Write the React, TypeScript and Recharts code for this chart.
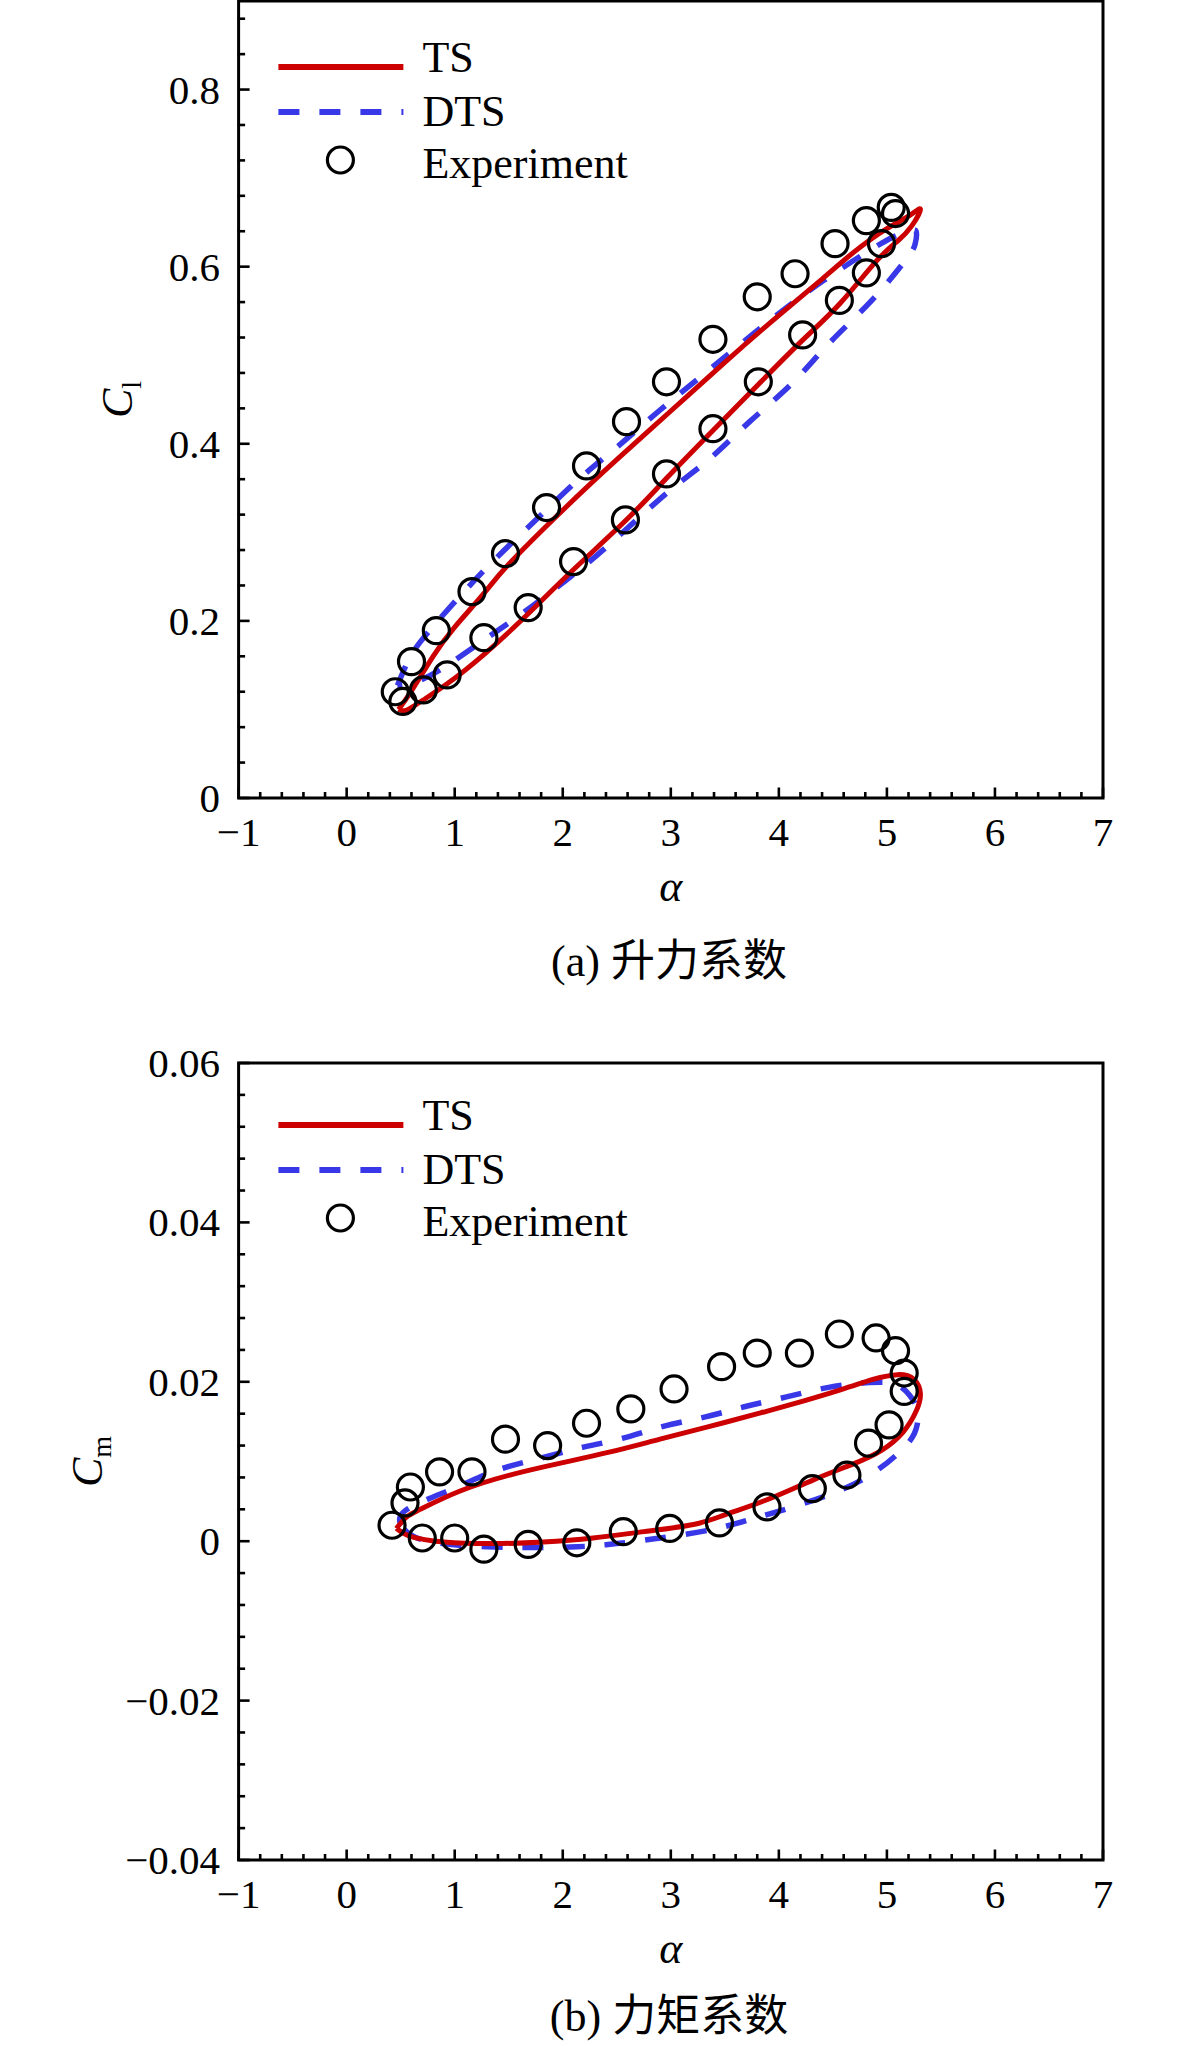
import React from 'react';
import { ComposedChart, Line, Scatter, XAxis, YAxis, Legend, ReferenceArea } from 'recharts';

const FONT = "'Liberation Serif', 'Times New Roman', serif";
const RED = '#cc0000';
const BLUE = '#3838e8';

// ---- axis ticks ----
const alphaTicks = [-1, 0, 1, 2, 3, 4, 5, 6, 7];
const alphaTickLabels = ['−1', '0', '1', '2', '3', '4', '5', '6', '7'];
const alphaMinorTicks = [
  -0.8, -0.6, -0.4, -0.2, 0.2, 0.4, 0.6, 0.8, 1.2, 1.4, 1.6, 1.8, 2.2, 2.4, 2.6, 2.8,
  3.2, 3.4, 3.6, 3.8, 4.2, 4.4, 4.6, 4.8, 5.2, 5.4, 5.6, 5.8, 6.2, 6.4, 6.6, 6.8,
];
const clTicks = [0, 0.2, 0.4, 0.6, 0.8];
const clTickLabels = ['0', '0.2', '0.4', '0.6', '0.8'];
const clMinorTicks = [
  0.04, 0.08, 0.12, 0.16, 0.24, 0.28, 0.32, 0.36, 0.44, 0.48, 0.52, 0.56, 0.64, 0.68, 0.72, 0.76, 0.84, 0.88,
];
const cmTicks = [-0.04, -0.02, 0, 0.02, 0.04, 0.06];
const cmTickLabels = ['−0.04', '−0.02', '0', '0.02', '0.04', '0.06'];
const cmMinorTicks = [
  -0.036, -0.032, -0.028, -0.024, -0.016, -0.012, -0.008, -0.004, 0.004, 0.008, 0.012, 0.016,
  0.024, 0.028, 0.032, 0.036, 0.044, 0.048, 0.052, 0.056,
];

// ---- (a) lift coefficient ----
const clTS: [number, number][] = [
  [0.48, 0.100], [0.6, 0.121], [0.8, 0.160], [1.0, 0.193], [1.27, 0.231], [1.5, 0.264], [2.0, 0.325],
  [2.5, 0.382], [3.0, 0.437], [3.5, 0.492], [4.0, 0.545], [4.4, 0.586], [4.7, 0.617], [5.0, 0.643],
  [5.2, 0.657], [5.31, 0.665], [5.23, 0.646], [5.1, 0.629], [4.9, 0.606], [4.57, 0.559], [4.22, 0.517],
  [3.81, 0.467], [3.39, 0.415], [2.96, 0.361], [2.58, 0.313], [2.1, 0.258], [1.68, 0.208], [1.27, 0.162],
  [0.93, 0.129], [0.7, 0.110], [0.55, 0.099], [0.48, 0.100],
];
const clDTS: [number, number][] = [
  [0.47, 0.127], [0.55, 0.150], [0.68, 0.176], [0.99, 0.220], [1.36, 0.268], [1.76, 0.315], [2.13, 0.358],
  [2.5, 0.396], [2.89, 0.437], [3.27, 0.475], [3.64, 0.512], [4.01, 0.548], [4.41, 0.584], [4.81, 0.616],
  [5.05, 0.633], [5.2, 0.640], [5.27, 0.640], [5.26, 0.625], [5.17, 0.607], [4.86, 0.562], [4.47, 0.514],
  [4.12, 0.468], [3.73, 0.425], [3.36, 0.383], [2.96, 0.344], [2.41, 0.284], [2.0, 0.243], [1.62, 0.208],
  [1.23, 0.175], [0.88, 0.146], [0.62, 0.130], [0.47, 0.127],
];
const clExp: [number, number][] = [
  [0.45, 0.120], [0.60, 0.154], [0.83, 0.189], [1.16, 0.233], [1.47, 0.276], [1.85, 0.328], [2.22, 0.375],
  [2.59, 0.425], [2.96, 0.470], [3.39, 0.518], [3.80, 0.566], [4.15, 0.592], [4.52, 0.626], [4.81, 0.652],
  [5.04, 0.667], [5.08, 0.660],
  [0.52, 0.109], [0.71, 0.122], [0.93, 0.139], [1.27, 0.181], [1.68, 0.215], [2.10, 0.267], [2.58, 0.314],
  [2.96, 0.366], [3.39, 0.417], [3.81, 0.470], [4.22, 0.523], [4.56, 0.562], [4.81, 0.593], [4.95, 0.626],
];

// ---- (b) moment coefficient ----
const cmTS: [number, number][] = [
  [0.46, 0.0016], [0.55, 0.0030], [0.68, 0.0040], [1.05, 0.0063], [1.51, 0.0083], [1.98, 0.0098],
  [2.44, 0.0112], [2.9, 0.0128], [3.36, 0.0144], [3.83, 0.0161], [4.1, 0.0171], [4.57, 0.0190],
  [4.87, 0.0203], [5.1, 0.0209], [5.25, 0.0203], [5.31, 0.0185], [5.27, 0.0163], [5.15, 0.0137],
  [4.95, 0.0114], [4.69, 0.0097], [4.32, 0.0077], [3.89, 0.0052], [3.5, 0.0033], [3.21, 0.0021],
  [2.75, 0.0012], [2.28, 0.0004], [1.82, -0.0001], [1.36, -0.0003], [0.9, -0.0001], [0.59, 0.0006],
  [0.46, 0.0016],
];
const cmDTS: [number, number][] = [
  [0.5, 0.0020], [0.56, 0.0040], [0.99, 0.0066], [1.39, 0.0089], [1.79, 0.0104], [2.16, 0.0117],
  [2.55, 0.0129], [2.93, 0.0144], [3.32, 0.0156], [3.69, 0.0169], [4.07, 0.0181], [4.46, 0.0193],
  [4.84, 0.0199], [5.08, 0.0197], [5.21, 0.0183], [5.28, 0.0166], [5.28, 0.0146], [5.19, 0.0122],
  [4.91, 0.0089], [4.57, 0.0064], [4.13, 0.0043], [3.73, 0.0027], [3.36, 0.0014], [2.9, 0.0004],
  [2.5, -0.0003], [2.13, -0.0007], [1.7, -0.0008], [1.3, -0.0007], [0.89, -0.0003], [0.62, 0.0006],
  [0.5, 0.0020],
];
const cmExp: [number, number][] = [
  [0.42, 0.0020], [0.54, 0.0048], [0.59, 0.0068], [0.86, 0.0087], [1.16, 0.0087], [1.47, 0.0128],
  [1.86, 0.0120], [2.22, 0.0148], [2.63, 0.0166], [3.03, 0.0191], [3.47, 0.0219], [3.80, 0.0236],
  [4.19, 0.0236], [4.56, 0.0260], [4.90, 0.0255], [5.08, 0.0239], [5.16, 0.0211], [5.16, 0.0188],
  [5.02, 0.0146], [4.83, 0.0123], [4.63, 0.0083], [4.31, 0.0066], [3.89, 0.0043], [3.45, 0.0023],
  [2.99, 0.0016], [2.56, 0.0012], [2.13, -0.0002], [1.68, -0.0004], [1.27, -0.0010], [1.00, 0.0004],
  [0.70, 0.0004],
];

const toPts = (arr: [number, number][]) => arr.map(([x, y]) => ({ x, y }));

const CHART_W = 1181;
const CHART_H = 1000;
const PLOT_LEFT = 238.6;
const PLOT_W = 864.4;
const PLOT_H = 797;

const TICK_W = 2.6;

// custom tick renderers: draw the inward tick mark and (optionally) the label
const makeXTick = (ticks: number[], labels: string[] | null, len: number) => (props: any) => {
  const { x, y, payload } = props;
  const i = ticks.indexOf(payload.value);
  return (
    <g>
      <line x1={x} x2={x} y1={y} y2={y - len} stroke="#000" strokeWidth={TICK_W} />
      {labels && i >= 0 ? (
        <text x={x} y={y + 48} textAnchor="middle" fontFamily={FONT} fontSize={41} fill="#000">
          {labels[i]}
        </text>
      ) : null}
    </g>
  );
};
const makeYTick = (ticks: number[], labels: string[] | null, len: number) => (props: any) => {
  const { x, y, payload } = props;
  const i = ticks.indexOf(payload.value);
  return (
    <g>
      <line x1={x} x2={x + len} y1={y} y2={y} stroke="#000" strokeWidth={TICK_W} />
      {labels && i >= 0 ? (
        <text x={x - 18.6} y={y + 14} textAnchor="end" fontFamily={FONT} fontSize={41} fill="#000">
          {labels[i]}
        </text>
      ) : null}
    </g>
  );
};

const xMajorTick = makeXTick(alphaTicks, alphaTickLabels, 10.5);
const xMinorTick = makeXTick(alphaMinorTicks, null, 7);

function YTitle(props: any) {
  const vb = props.viewBox || {};
  const axisX = vb.x !== undefined ? vb.x + (vb.width || 0) : PLOT_LEFT;
  const cy = vb.y !== undefined ? vb.y + (vb.height || PLOT_H) / 2 : PLOT_H / 2;
  const x = axisX - props.gap;
  return (
    <text
      transform={`translate(${x},${cy}) rotate(-90)`}
      textAnchor="middle"
      fontFamily={FONT}
      fontSize={44}
      fill="#000"
    >
      <tspan fontStyle="italic">C</tspan>
      <tspan fontSize={28} dy={9}>{props.sub}</tspan>
    </text>
  );
}

function LegendBox() {
  return (
    <svg width={460} height={190} style={{ overflow: 'visible', display: 'block' }}>
      <line x1={19.4} x2={144.4} y1={47} y2={47} stroke={RED} strokeWidth={6} />
      <text x={163.4} y={52} fontFamily={FONT} fontSize={44} fill="#000">TS</text>
      <line x1={19.4} x2={144.4} y1={92} y2={92} stroke={BLUE} strokeWidth={6} strokeDasharray="21 20" />
      <text x={163.4} y={106} fontFamily={FONT} fontSize={44} fill="#000">DTS</text>
      <circle cx={81.4} cy={140} r={13} fill="none" stroke="#000" strokeWidth={3.2} />
      <text x={163.4} y={158} fontFamily={FONT} fontSize={44} fill="#000">Experiment</text>
    </svg>
  );
}

const ExpMarker = (p: any) => (
  <circle cx={p.cx} cy={p.cy} r={13} fill="none" stroke="#000" strokeWidth={3.2} />
);

type PanelProps = {
  plotTop: number;
  yDomain: [number, number];
  yTicks: number[];
  yTickLabels: string[];
  yMinor: number[];
  ts: [number, number][];
  dts: [number, number][];
  exp: [number, number][];
  sub: string;
  yTitleGap: number;
  legendDy: number;
};

function Panel(p: PanelProps) {
  const margin = {
    top: p.plotTop,
    left: PLOT_LEFT - 2,
    right: CHART_W - PLOT_LEFT - PLOT_W,
    bottom: CHART_H - p.plotTop - PLOT_H - 2,
  };
  const yMajorTick = makeYTick(p.yTicks, p.yTickLabels, 11);
  const yMinorTick = makeYTick(p.yMinor, null, 7.5);
  return (
    <ComposedChart width={CHART_W} height={CHART_H} margin={margin}>
      <XAxis
        dataKey="x"
        type="number"
        domain={[-1, 7]}
        allowDataOverflow
        ticks={alphaTicks}
        interval={0}
        tickSize={0}
        tickMargin={0}
        height={1}
        axisLine={false}
        tickLine={false}
        tick={xMajorTick}
        label={{ value: 'α', position: 'bottom', offset: 71, fill: '#000', fontSize: 44, fontFamily: FONT, fontStyle: 'italic' }}
      />
      <XAxis
        xAxisId="minor"
        dataKey="x"
        type="number"
        domain={[-1, 7]}
        allowDataOverflow
        ticks={alphaMinorTicks}
        interval={0}
        tickSize={0}
        tickMargin={0}
        height={1}
        axisLine={false}
        tickLine={false}
        tick={xMinorTick}
      />
      <YAxis
        dataKey="y"
        type="number"
        domain={p.yDomain}
        allowDataOverflow
        ticks={p.yTicks}
        interval={0}
        tickSize={0}
        tickMargin={0}
        width={1}
        axisLine={false}
        tickLine={false}
        tick={yMajorTick}
        label={<YTitle sub={p.sub} gap={p.yTitleGap} />}
      />
      <YAxis
        yAxisId="minor"
        dataKey="y"
        type="number"
        domain={p.yDomain}
        allowDataOverflow
        ticks={p.yMinor}
        interval={0}
        tickSize={0}
        tickMargin={0}
        width={1}
        axisLine={false}
        tickLine={false}
        tick={yMinorTick}
      />
      <ReferenceArea
        x1={-1}
        x2={7}
        y1={p.yDomain[0]}
        y2={p.yDomain[1]}
        fill="none"
        fillOpacity={0}
        stroke="#000"
        strokeWidth={3}
        ifOverflow="visible"
      />
      <Legend
        layout="vertical"
        align="center"
        verticalAlign="middle"
        content={() => <LegendBox />}
        wrapperStyle={{
          position: 'absolute',
          left: PLOT_LEFT + 20,
          top: p.plotTop + 19 + p.legendDy,
          width: 460,
          height: 190,
        }}
      />
      <Line
        data={toPts(p.dts)}
        dataKey="y"
        type="natural"
        stroke={BLUE}
        strokeWidth={5.5}
        strokeDasharray="21 20"
        dot={false}
        activeDot={false}
        isAnimationActive={false}
        legendType="none"
      />
      <Line
        data={toPts(p.ts)}
        dataKey="y"
        type="natural"
        stroke={RED}
        strokeWidth={5}
        dot={false}
        activeDot={false}
        isAnimationActive={false}
        legendType="none"
      />
      <Scatter
        data={toPts(p.exp)}
        dataKey="y"
        shape={ExpMarker}
        isAnimationActive={false}
        legendType="none"
      />
    </ComposedChart>
  );
}

const captionStyle: React.CSSProperties = {
  position: 'absolute',
  left: 669 - 300,
  width: 600,
  textAlign: 'center',
  fontFamily: "'Liberation Serif', 'Noto Sans CJK SC', serif",
  fontSize: 44,
  lineHeight: '48px',
  color: '#000',
  whiteSpace: 'nowrap',
};

export default function App() {
  return (
    <div style={{ position: 'absolute', left: 0, top: 0, width: 1181, height: 2046, background: '#fff', overflow: 'hidden' }}>
      <div style={{ position: 'absolute', left: 0, top: 0 }}>
        <Panel
          plotTop={1}
          yDomain={[0, 0.9]}
          yTicks={clTicks}
          yTickLabels={clTickLabels}
          yMinor={clMinorTicks}
          ts={clTS}
          dts={clDTS}
          exp={clExp}
          sub="l"
          yTitleGap={106.6}
          legendDy={0}
        />
      </div>
      <div style={{ position: 'absolute', left: 0, top: 1000 }}>
        <Panel
          plotTop={63}
          yDomain={[-0.04, 0.06]}
          yTicks={cmTicks}
          yTickLabels={cmTickLabels}
          yMinor={cmMinorTicks}
          ts={cmTS}
          dts={cmDTS}
          exp={cmExp}
          sub="m"
          yTitleGap={136.6}
          legendDy={-4}
        />
      </div>
      <div style={{ ...captionStyle, top: 938 }}>(a) 升力系数</div>
      <div style={{ ...captionStyle, top: 1993 }}>(b) 力矩系数</div>
    </div>
  );
}
